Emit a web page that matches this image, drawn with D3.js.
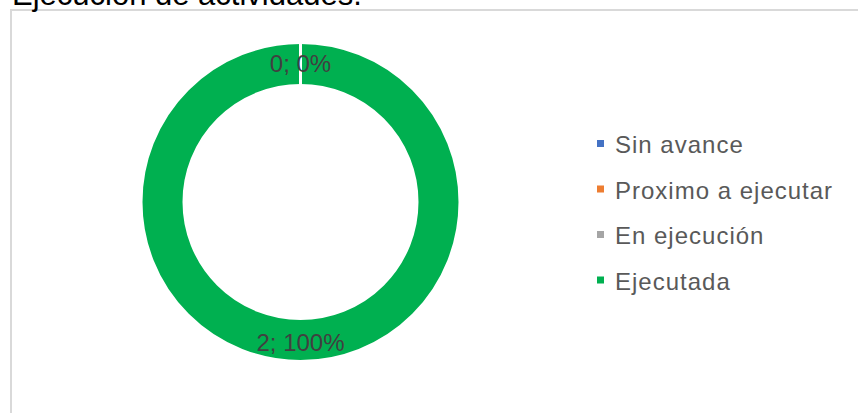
<!DOCTYPE html>
<html>
<head>
<meta charset="utf-8">
<script src="https://cdn.jsdelivr.net/npm/d3@7"></script>
<style>
  body { margin: 0; background: #fff; }
  svg { display: block; font-family: "Liberation Sans", Arial, sans-serif; }
</style>
</head>
<body>
<div id="chart"></div>
<script>
const title = "Ejecución de actividades.";
const categories = ["Sin avance", "Proximo a ejecutar", "En ejecución", "Ejecutada"];
const values = [0, 0, 0, 2];
const colors = ["#4472C4", "#ED7D31", "#A5A5A5", "#00B050"];

const width = 858;
const height = 413;

const svg = d3
  .select("#chart")
  .append("svg")
  .attr("width", width)
  .attr("height", height);

// chart area border (only left and top are visible in the frame)
svg
  .append("rect")
  .attr("x", 11)
  .attr("y", 10)
  .attr("width", 1000)
  .attr("height", 600)
  .attr("fill", "none")
  .attr("stroke", "#d9d9d9")
  .attr("stroke-width", 2);

svg
  .append("text")
  .attr("x", 12)
  .attr("y", 4.5)
  .attr("font-size", 31)
  .attr("fill", "#000")
  .text(title);

const data = categories.map((c, i) => ({ name: c, value: values[i], color: colors[i] }));
const total = d3.sum(values);

const pie = d3.pie().sort(null).value((d) => d.value);
const arc = d3.arc().innerRadius(116.5).outerRadius(159.5);
const labelArc = d3.arc().innerRadius(118).outerRadius(158);

const g = svg.append("g").attr("transform", "translate(300.5, 202)");
const arcs = pie(data);

// draw non-empty slices first so the white borders of empty ones stay visible
const drawOrder = arcs.slice().sort((a, b) => b.value - a.value);

g.selectAll("path")
  .data(drawOrder)
  .enter()
  .append("path")
  .attr("d", arc)
  .attr("fill", (d) => d.data.color)
  .attr("stroke", "#fff")
  .attr("stroke-width", 3);

// Excel only shows one label for the stacked zero slices
const shown = [arcs[0], arcs[3]];
g.selectAll("text.lbl")
  .data(shown)
  .enter()
  .append("text")
  .attr("class", "lbl")
  .attr("x", (d) => labelArc.centroid(d)[0])
  .attr("y", (d) => labelArc.centroid(d)[1] + (d.value > 0 ? 3 : 0))
  .attr("dy", "0.35em")
  .attr("text-anchor", "middle")
  .attr("font-size", 24)
  .attr("fill", "#404040")
  .text((d) => `${d.value}; ${Math.round((d.value / total) * 100)}%`);

// Legend
const legend = svg
  .append("g")
  .selectAll("g")
  .data(data)
  .enter()
  .append("g")
  .attr("transform", (d, i) => `translate(597, ${153 + i * 45.5})`);

legend
  .append("rect")
  .attr("x", 0)
  .attr("y", -13)
  .attr("width", 7)
  .attr("height", 7)
  .attr("fill", (d) => d.color);

legend
  .append("text")
  .attr("x", 18)
  .attr("y", 0)
  .attr("font-size", 24)
  .attr("letter-spacing", 1)
  .attr("fill", "#595959")
  .text((d) => d.name);
</script>
</body>
</html>
